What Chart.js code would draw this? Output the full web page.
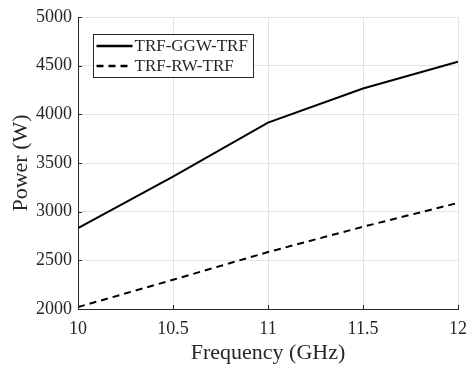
<!DOCTYPE html>
<html>
<head>
<meta charset="utf-8">
<script src="https://cdn.jsdelivr.net/npm/chart.js@4"></script>
<style>
  html, body { margin: 0; padding: 0; background: #fff; }
  #wrap { width: 467px; height: 368px; }
</style>
</head>
<body>
<div id="wrap"><canvas id="powerChart"></canvas></div>
<script>
// values
const freq = [10, 10.5, 11, 11.5, 12];
const ggwPower = [2830, 3360, 3915, 4265, 4540];
const rwPower = [2020, 2300, 2585, 2845, 3090];
const seriesNames = ['TRF-GGW-TRF', 'TRF-RW-TRF'];

const serif = "'Liberation Serif', 'Times New Roman', serif";
const textColor = '#262626';

// MATLAB-style legend box inside the plot + inward tick marks
const matlabBits = {
  id: 'matlabBits',
  afterDraw(chart) {
    const ctx = chart.ctx;
    const area = chart.chartArea;
    const xs = chart.scales.x, ys = chart.scales.y;

    ctx.save();
    ctx.strokeStyle = textColor;
    ctx.lineWidth = 1;
    ctx.beginPath();
    xs.ticks.forEach(t => {
      const px = Math.round(xs.getPixelForValue(t.value)) + 0.5;
      ctx.moveTo(px, area.bottom);
      ctx.lineTo(px, area.bottom - 4);
    });
    ys.ticks.forEach(t => {
      const py = Math.round(ys.getPixelForValue(t.value)) + 0.5;
      ctx.moveTo(area.left, py);
      ctx.lineTo(area.left + 4, py);
    });
    ctx.stroke();

    // legend
    const bx = area.left + 15.5, by = area.top + 17.5, bw = 160, bh = 43;
    ctx.fillStyle = '#fff';
    ctx.fillRect(bx, by, bw, bh);
    ctx.strokeStyle = textColor;
    ctx.strokeRect(bx, by, bw, bh);
    chart.data.datasets.forEach((ds, i) => {
      const ly = by + 11.5 + i * 20;
      ctx.strokeStyle = '#000';
      ctx.lineWidth = 2.5;
      ctx.setLineDash(ds.borderDash || []);
      ctx.beginPath();
      ctx.moveTo(bx + 3, ly);
      ctx.lineTo(bx + 39, ly);
      ctx.stroke();
      ctx.setLineDash([]);
      ctx.fillStyle = textColor;
      ctx.font = '17px ' + serif;
      ctx.textBaseline = 'middle';
      ctx.textAlign = 'left';
      ctx.fillText(ds.label, bx + 41, ly + 1);
    });
    ctx.restore();
  }
};

new Chart(document.getElementById('powerChart'), {
  type: 'line',
  data: {
    datasets: [{
      label: seriesNames[0],
      data: freq.map((f, i) => ({ x: f, y: ggwPower[i] })),
      borderColor: '#000',
      borderWidth: 2,
      pointRadius: 0,
      tension: 0,
      fill: false
    }, {
      label: seriesNames[1],
      data: freq.map((f, i) => ({ x: f, y: rwPower[i] })),
      borderColor: '#000',
      borderWidth: 2,
      borderDash: [7, 5],
      pointRadius: 0,
      tension: 0,
      fill: false
    }]
  },
  options: {
    responsive: true,
    maintainAspectRatio: false,
    animation: false,
    layout: { padding: { top: 17, right: 9, left: 0, bottom: 0 } },
    plugins: {
      legend: { display: false },
      tooltip: { enabled: false }
    },
    scales: {
      x: {
        type: 'linear',
        min: 10,
        max: 12,
        ticks: { stepSize: 0.5, color: textColor, padding: 9, font: { family: serif, size: 18 }, callback: v => String(v) },
        grid: { color: '#e3e3e3', drawTicks: false },
        border: { color: textColor, width: 1 },
        title: { display: true, text: 'Frequency (GHz)', color: textColor, font: { family: serif, size: 22 }, padding: { top: 0, bottom: 2 } },
        afterFit(s) { s.height = 59; s.paddingRight = 9; }
      },
      y: {
        min: 2000,
        max: 5000,
        ticks: { stepSize: 500, color: textColor, padding: 6, font: { family: serif, size: 18 }, callback: v => String(v) },
        grid: { color: '#e3e3e3', drawTicks: false },
        border: { color: textColor, width: 1 },
        title: { display: true, text: 'Power (W)', color: textColor, font: { family: serif, size: 22 }, padding: { top: 8, bottom: 0 } },
        afterFit(s) { s.width = 78; }
      }
    }
  },
  plugins: [matlabBits]
});
</script>
</body>
</html>
